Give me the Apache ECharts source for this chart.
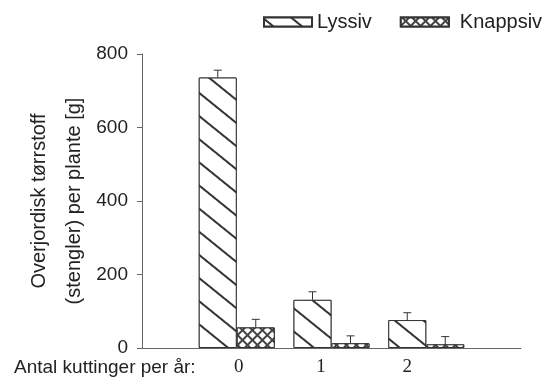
<!DOCTYPE html>
<html>
<head>
<meta charset="utf-8">
<script src="https://cdn.jsdelivr.net/npm/echarts@6/dist/echarts.min.js"></script>
<style>
  html, body { margin: 0; padding: 0; background: #fff; }
  #chart { width: 544px; height: 390px; }
</style>
</head>
<body>
<div id="chart"></div>
<script>
// cuts per year (x positions of the bar groups)
let cuts = [0, 1, 2];
let lyssiv = [736, 131, 76];
let lyssivErr = [20, 22, 20];
let knappsiv = [56, 13, 10];
let knappsivErr = [22, 20, 21];
let yTicks = [0, 200, 400, 600, 800];

const BAR_W = 38;

function pairs(vals) {
  return cuts.map(function (c, i) { return [c, vals[i]]; });
}

// error bar drawn on top of a bar, shifted by `shift` px from the group centre
function errBar(shift) {
  return function (params, api) {
    let x = api.value(0), v = api.value(1), e = api.value(2);
    let p0 = api.coord([x, v]);
    let p1 = api.coord([x, v + e]);
    let cx = p0[0] + shift;
    let st = { stroke: '#333', lineWidth: 1 };
    return {
      type: 'group',
      children: [
        { type: 'line', shape: { x1: cx, y1: p0[1], x2: cx, y2: p1[1] }, style: st },
        { type: 'line', shape: { x1: cx - 4, y1: p1[1], x2: cx + 4, y2: p1[1] }, style: st }
      ]
    };
  };
}

let chart = echarts.init(document.getElementById('chart'));
chart.setOption({
  animation: false,
  textStyle: { fontFamily: 'Liberation Sans', color: '#222' },
  title: {
    text: 'Antal kuttinger per år:',
    left: 14,
    top: 358,
    padding: 0,
    textStyle: { fontFamily: 'Liberation Sans', fontWeight: 'normal', fontSize: 19, color: '#222' }
  },
  legend: {
    left: 263,
    right: 0,
    top: 12,
    icon: 'rect',
    itemWidth: 48,
    itemHeight: 9,
    itemGap: 28,
    padding: 0,
    textStyle: { fontSize: 20, color: '#222' },
    data: ['Lyssiv', { name: 'Knappsiv', textStyle: { padding: [0, 0, 0, 6] } }]
  },
  grid: { left: 142, right: 23, top: 54, bottom: 42 },
  xAxis: {
    type: 'value',
    min: -1,
    max: 3,
    interval: 1,
    splitLine: { show: false },
    axisTick: { show: false },
    axisLine: { onZero: false, lineStyle: { color: '#666', width: 1 } },
    axisLabel: {
      margin: 10,
      fontFamily: 'Liberation Serif',
      fontSize: 19,
      color: '#222',
      formatter: function (v) {
        if (v === 0) return '{a|0}';
        if (v === 1) return '{b|1}';
        if (v === 2) return '{c|2}';
        return '';
      },
      rich: {
        a: { fontFamily: 'Liberation Serif', fontSize: 19, padding: [0, 0, 0, 4] },
        b: { fontFamily: 'Liberation Serif', fontSize: 19, padding: [0, 21, 0, 0] },
        c: { fontFamily: 'Liberation Serif', fontSize: 19, padding: [0, 38, 0, 0] }
      }
    }
  },
  yAxis: {
    type: 'value',
    min: yTicks[0],
    max: yTicks[yTicks.length - 1],
    interval: 200,
    splitLine: { show: false },
    axisLine: { show: true, onZero: false, lineStyle: { color: '#666', width: 1 } },
    axisTick: { show: true, length: 5, lineStyle: { color: '#666' } },
    axisLabel: { margin: 14, fontSize: 19, color: '#222' },
    name: 'Overjordisk tørrstoff\n(stengler) per plante [g]',
    nameLocation: 'middle',
    nameRotate: 90,
    nameGap: 50,
    nameMoveOverlap: false,
    nameTextStyle: { fontSize: 20, lineHeight: 35, color: '#222' }
  },
  series: [
    {
      name: 'Lyssiv',
      type: 'bar',
      barWidth: BAR_W,
      barGap: '0%',
      data: pairs(lyssiv),
      itemStyle: {
        color: '#fff',
        borderColor: '#333',
        borderWidth: 1,
        decal: {
          symbol: 'rect',
          symbolSize: 1,
          color: '#333',
          backgroundColor: '#fff',
          dashArrayX: [1, 0],
          dashArrayY: [1.2, 15.8],
          rotation: 0.68
        }
      }
    },
    {
      name: 'Knappsiv',
      type: 'bar',
      barWidth: BAR_W,
      barGap: '0%',
      data: pairs(knappsiv),
      itemStyle: {
        color: '#fff',
        borderColor: '#333',
        borderWidth: 1,
        decal: {
          symbol: 'rect',
          symbolSize: 1,
          color: '#fff',
          backgroundColor: '#444',
          dashArrayX: [5, 1.2],
          dashArrayY: [5, 1.2],
          rotation: Math.PI / 4
        }
      }
    },
    {
      type: 'custom',
      renderItem: errBar(-BAR_W / 2),
      data: cuts.map(function (c, i) { return [c, lyssiv[i], lyssivErr[i]]; }),
      z: 5
    },
    {
      type: 'custom',
      renderItem: errBar(BAR_W / 2),
      data: cuts.map(function (c, i) { return [c, knappsiv[i], knappsivErr[i]]; }),
      z: 5
    }
  ]
});
</script>
</body>
</html>
